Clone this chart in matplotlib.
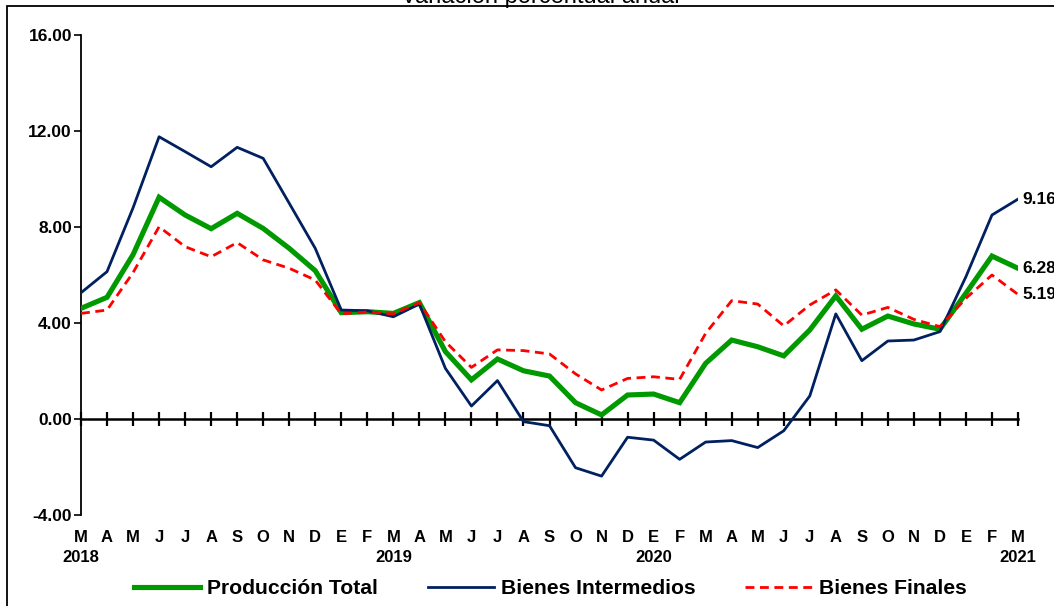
import matplotlib
matplotlib.use('Agg')
import matplotlib.pyplot as plt
import matplotlib.transforms as mtransforms
from matplotlib.patches import Rectangle

plt.rcParams['font.family'] = ['Liberation Sans', 'DejaVu Sans']

# Mar 2018 .. Mar 2021, variacion porcentual anual
months = ['M', 'A', 'M', 'J', 'J', 'A', 'S', 'O', 'N', 'D',
          'E', 'F', 'M', 'A', 'M', 'J', 'J', 'A', 'S', 'O', 'N', 'D',
          'E', 'F', 'M', 'A', 'M', 'J', 'J', 'A', 'S', 'O', 'N', 'D',
          'E', 'F', 'M']
years = {0: '2018', 12: '2019', 22: '2020', 36: '2021'}

produccion_total = [4.61, 5.07, 6.85, 9.24, 8.50, 7.93, 8.57, 7.94, 7.11, 6.18,
                    4.43, 4.47, 4.40, 4.85, 2.81, 1.63, 2.50, 2.01, 1.79, 0.68,
                    0.17, 1.00, 1.04, 0.68, 2.32, 3.29, 3.01, 2.63, 3.71, 5.13,
                    3.74, 4.29, 3.96, 3.74, 5.24, 6.79, 6.28]
bienes_intermedios = [5.26, 6.14, 8.80, 11.76, 11.14, 10.51, 11.32, 10.86, 8.99, 7.11,
                      4.54, 4.51, 4.26, 4.79, 2.11, 0.54, 1.60, -0.11, -0.28, -2.03,
                      -2.38, -0.76, -0.88, -1.68, -0.96, -0.90, -1.19, -0.49, 0.96, 4.38,
                      2.43, 3.25, 3.29, 3.64, 5.93, 8.50, 9.16]
bienes_finales = [4.40, 4.54, 6.10, 8.01, 7.18, 6.76, 7.35, 6.63, 6.28, 5.79,
                  4.38, 4.46, 4.38, 4.85, 3.22, 2.15, 2.88, 2.85, 2.71, 1.88,
                  1.21, 1.69, 1.76, 1.65, 3.57, 4.93, 4.79, 3.88, 4.75, 5.38,
                  4.33, 4.65, 4.15, 3.85, 5.03, 6.00, 5.19]

GREEN = '#009900'
NAVY = '#002060'
RED = '#FF0000'

fig = plt.figure(figsize=(10.54, 6.06), dpi=100)
ax = fig.add_axes([81 / 1054, 91 / 606, 937 / 1054, 480 / 606])

x = list(range(len(months)))
ax.plot(x, produccion_total, color=GREEN, lw=3.7, solid_joinstyle='miter',
        label='Producción Total', zorder=3)
ax.plot(x, bienes_intermedios, color=NAVY, lw=2.0, label='Bienes Intermedios', zorder=4)
ax.plot(x, bienes_finales, color=RED, lw=2.0, ls=(0, (3.2, 2.0)),
        label='Bienes Finales', zorder=5)

ax.set_xlim(0, len(months) - 1)
ax.set_ylim(-4, 16)
ax.set_yticks([-4, 0, 4, 8, 12, 16])
ax.set_yticklabels(['%.2f' % v for v in [-4, 0, 4, 8, 12, 16]],
                   fontsize=12.5, fontweight='bold')
ax.tick_params(axis='y', direction='out', length=5, width=1.2, pad=1.5)

for s in ['top', 'right']:
    ax.spines[s].set_visible(False)
ax.spines['left'].set_linewidth(1.3)
ax.spines['bottom'].set_position(('data', 0))
ax.spines['bottom'].set_linewidth(1.8)
ax.set_xticks(x)
ax.set_xticklabels([])
ax.tick_params(axis='x', direction='inout', length=10, width=1.6)

trans = mtransforms.blended_transform_factory(ax.transData, ax.transAxes)
for i, m in enumerate(months):
    ax.text(i, -0.046, m, transform=trans, ha='center', va='center',
            fontsize=12, fontweight='bold')
for i, yr in years.items():
    ax.text(i, -0.089, yr, transform=trans, ha='center', va='center',
            fontsize=12, fontweight='bold')

# last values
for serie in [bienes_intermedios, produccion_total, bienes_finales]:
    ax.annotate('%.2f' % serie[-1], (x[-1], serie[-1]), xytext=(4, 0),
                textcoords='offset pixels', ha='left', va='center',
                fontsize=12.5, fontweight='bold', annotation_clip=False)

leg = fig.legend(loc='center', bbox_to_anchor=(550 / 1054, 17 / 606), ncol=3,
                 frameon=False, handlelength=3.15, handletextpad=0.33,
                 columnspacing=2.35, prop={'size': 15.2, 'weight': 'bold'})

# frame and cut title
fig.patches.append(Rectangle((7 / 1054, -0.05), 1.2, (606 - 5.5) / 606 + 0.05,
                             transform=fig.transFigure, fill=False,
                             edgecolor='black', lw=1.3))
fig.text(540 / 1054, (606 - 3) / 606, 'Variación porcentual anual',
         ha='center', va='baseline', fontsize=17)

fig.savefig('out.png', dpi=100)
